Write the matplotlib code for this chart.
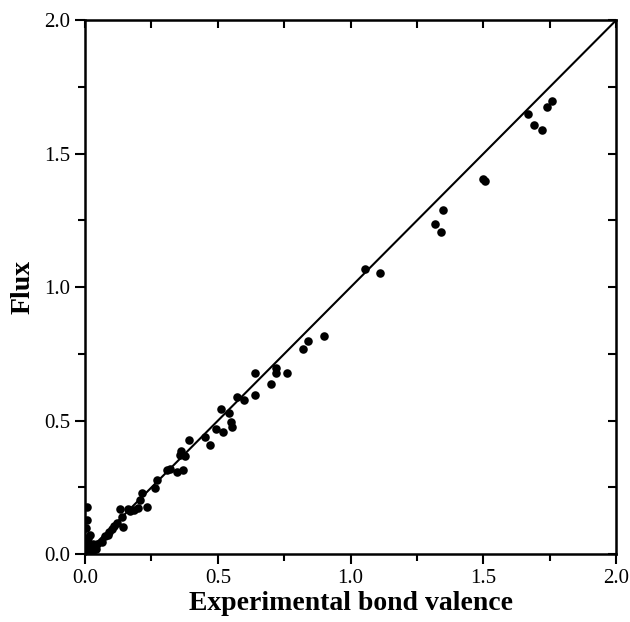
import matplotlib
matplotlib.use("Agg")
import matplotlib.pyplot as plt
from matplotlib.ticker import MultipleLocator

# experimental bond valence vs flux
exp_valence = [
    1.669, 1.689, 1.719, 1.738, 1.757, 1.498, 1.507, 1.348, 1.319, 1.340,
    1.055, 1.109, 0.901, 0.840, 0.821, 0.759, 0.718, 0.720, 0.699, 0.640,
    0.640, 0.600, 0.573, 0.554, 0.550, 0.543, 0.520, 0.513, 0.494, 0.472,
    0.453, 0.393, 0.375, 0.363, 0.356, 0.367, 0.345, 0.307, 0.320, 0.270,
    0.262, 0.232, 0.213, 0.206, 0.198, 0.185, 0.170, 0.160, 0.142, 0.139,
    0.131, 0.120, 0.110, 0.100, 0.090, 0.086, 0.075, 0.064, 0.045, 0.035,
    0.007, 0.007, 0.003, 0.019, 0.010, 0.003, 0.012, 0.020, 0.028, 0.008,
    0.002, 0.030, 0.015, 0.005, 0.025, 0.040,
]
flux = [
    1.648, 1.609, 1.588, 1.675, 1.697, 1.406, 1.397, 1.288, 1.238, 1.205,
    1.070, 1.055, 0.816, 0.799, 0.767, 0.677, 0.699, 0.677, 0.637, 0.679,
    0.598, 0.579, 0.588, 0.476, 0.494, 0.528, 0.457, 0.543, 0.468, 0.408,
    0.438, 0.427, 0.367, 0.386, 0.371, 0.315, 0.307, 0.315, 0.320, 0.277,
    0.247, 0.176, 0.228, 0.202, 0.172, 0.165, 0.160, 0.170, 0.101, 0.139,
    0.169, 0.116, 0.105, 0.095, 0.085, 0.071, 0.070, 0.045, 0.040, 0.030,
    0.176, 0.127, 0.097, 0.071, 0.060, 0.050, 0.040, 0.030, 0.015, 0.020,
    0.005, 0.040, 0.010, 0.030, 0.002, 0.020,
]

plt.rcParams['font.family'] = ['Liberation Serif', 'DejaVu Serif']

fig = plt.figure(figsize=(6.3, 6.22), dpi=100)
ax = fig.add_axes([0.135, 0.109, 0.843, 0.8585])

ax.plot([0, 2], [0, 2], color='black', lw=1.5, zorder=2)
ax.scatter(exp_valence, flux, s=38, color='black', zorder=3, linewidths=0)

ax.set_xlim(0, 2)
ax.set_ylim(0, 2)
ax.xaxis.set_major_locator(MultipleLocator(0.5))
ax.xaxis.set_minor_locator(MultipleLocator(0.25))
ax.yaxis.set_major_locator(MultipleLocator(0.5))
ax.yaxis.set_minor_locator(MultipleLocator(0.25))
ax.xaxis.set_major_formatter(plt.FormatStrFormatter('%.1f'))
ax.yaxis.set_major_formatter(plt.FormatStrFormatter('%.1f'))

ax.tick_params(which='both', direction='out', width=1.5, labelsize=15,
               top=False, right=False)
ax.tick_params(which='major', length=7)
ax.tick_params(which='minor', length=5)
for side in ['left', 'right', 'top', 'bottom']:
    ax.spines[side].set_linewidth(1.8)

# inward ticks on top and right
sec_x = ax.secondary_xaxis('top')
sec_x.xaxis.set_major_locator(MultipleLocator(0.25))
sec_x.tick_params(direction='in', length=6, width=1.5, labeltop=False)
sec_y = ax.secondary_yaxis('right')
sec_y.yaxis.set_major_locator(MultipleLocator(0.25))
sec_y.tick_params(direction='in', length=6, width=1.5, labelright=False)

ax.set_xlabel('Experimental bond valence', fontsize=20, fontweight='bold', labelpad=2)
ax.set_ylabel('Flux', fontsize=20, fontweight='bold', labelpad=6)

fig.savefig('out.png', dpi=100)
